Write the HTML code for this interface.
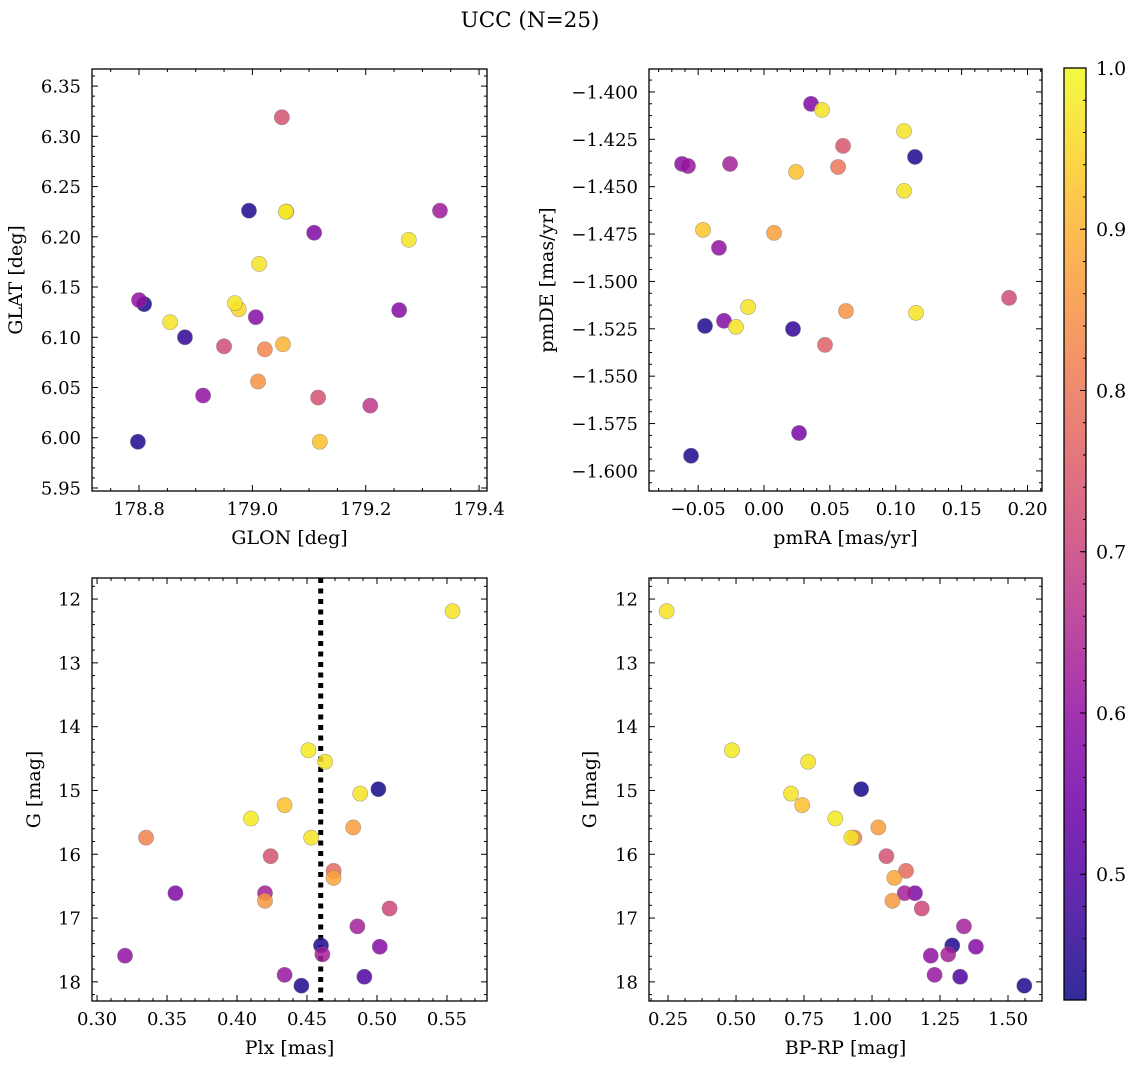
<!DOCTYPE html>
<html><head><meta charset="utf-8">
<style>
html,body{margin:0;padding:0;background:#fff;}
svg{display:block;font-family:"DejaVu Serif","Liberation Serif",serif;}
</style></head>
<body>
<svg id="fig" width="1136" height="1068" viewBox="0 0 1136 1068" xmlns="http://www.w3.org/2000/svg">
<text x="530" y="27" text-anchor="middle" font-size="21.5">UCC (N=25)</text>
</svg>
<script>
// Shared star data (panels 3 and 4)
const gMag = [12.19,14.37,14.55,14.98,15.05,15.23,15.44,15.58,15.74,15.74,16.03,16.26,16.37,16.61,16.61,16.73,16.85,17.13,17.43,17.45,17.59,17.57,17.89,17.92,18.06];
const plx  = [0.554,0.451,0.463,0.501,0.488,0.434,0.410,0.483,0.335,0.453,0.424,0.469,0.469,0.356,0.420,0.420,0.509,0.486,0.460,0.502,0.320,0.461,0.434,0.491,0.446];
const bprp = [0.245,0.485,0.765,0.960,0.702,0.743,0.865,1.023,0.935,0.924,1.053,1.125,1.082,1.158,1.120,1.075,1.183,1.338,1.295,1.382,1.216,1.280,1.230,1.324,1.560];
const probCmd = [0.97,0.98,0.97,0.43,0.97,0.92,0.98,0.87,0.82,0.97,0.73,0.78,0.88,0.57,0.63,0.86,0.71,0.63,0.44,0.58,0.60,0.63,0.61,0.50,0.44];
// Panel 1
const glon = [179.052,178.994,179.059,179.060,179.109,179.331,179.276,179.012,178.800,178.809,178.855,178.881,178.969,178.976,179.006,179.259,178.950,179.022,179.054,179.010,178.913,179.116,179.208,178.798,179.119];
const glat = [6.319,6.226,6.225,6.225,6.204,6.226,6.197,6.173,6.137,6.133,6.115,6.100,6.134,6.128,6.120,6.127,6.091,6.088,6.093,6.056,6.042,6.040,6.032,5.996,5.996];
const probPos = [0.73,0.44,0.98,0.93,0.57,0.62,0.97,0.97,0.60,0.44,0.97,0.46,0.97,0.95,0.58,0.58,0.72,0.83,0.90,0.85,0.60,0.73,0.68,0.44,0.92];
// Panel 2
const pmra = [0.0357,0.044,0.1063,0.060,0.1146,-0.0622,-0.0577,-0.0258,0.0562,0.0243,0.1063,-0.0463,0.0076,-0.0342,0.186,-0.0121,-0.0304,-0.0448,-0.0213,0.022,0.0622,0.1154,0.0463,0.0266,-0.0554];
const pmde = [-1.4063,-1.4095,-1.4206,-1.4285,-1.4343,-1.438,-1.4391,-1.438,-1.4396,-1.4422,-1.4522,-1.4728,-1.4744,-1.4823,-1.5087,-1.5135,-1.5208,-1.5235,-1.524,-1.5251,-1.5156,-1.5166,-1.5335,-1.58,-1.592];
const probPm = [0.57,0.97,0.97,0.74,0.44,0.59,0.61,0.63,0.80,0.92,0.97,0.93,0.87,0.60,0.72,0.97,0.58,0.44,0.97,0.46,0.85,0.97,0.76,0.56,0.44];
// Tick labels
const p1xTicks = [178.8,179.0,179.2,179.4];
const p1yTicks = [5.95,6.00,6.05,6.10,6.15,6.20,6.25,6.30,6.35];
const p2xTicks = [-0.05,0.00,0.05,0.10,0.15,0.20];
const p2yTicks = [-1.400,-1.425,-1.450,-1.475,-1.500,-1.525,-1.550,-1.575,-1.600];
const p3xTicks = [0.30,0.35,0.40,0.45,0.50,0.55];
const gTicks = [12,13,14,15,16,17,18];
const p4xTicks = [0.25,0.50,0.75,1.00,1.25,1.50];
const cbTicks = [0.5,0.6,0.7,0.8,0.9,1.0];
const plxMarker = [0.4598];

const NS="http://www.w3.org/2000/svg";
const svg=document.getElementById('fig');
const vmin=0.422, vmax=1.0;
const stops=["#0d0887","#41049d","#6a00a8","#8f0da4","#b12a90","#cc4778","#e16462","#f2844b","#fca636","#fcce25","#f0f921"];
function hex(h){return [parseInt(h.slice(1,3),16),parseInt(h.slice(3,5),16),parseInt(h.slice(5,7),16)];}
function cmap(p){let t=(p-vmin)/(vmax-vmin);t=Math.max(0,Math.min(1,t));const f=t*10;const i=Math.min(9,Math.floor(f));const u=f-i;const a=hex(stops[i]),b=hex(stops[i+1]);return 'rgb('+a.map((v,k)=>Math.round(v+(b[k]-v)*u)).join(',')+')';}
function mk(tag,attrs,parent){const e=document.createElementNS(NS,tag);for(const k in attrs)e.setAttribute(k,attrs[k]);(parent||svg).appendChild(e);return e;}
function fmt(v,d){const s=Math.abs(v).toFixed(d);return (v<-1e-9?'\u2212':'')+s;}

function panel(cfg){
  const g=mk('g',{});
  
  
  const L=cfg.box[0],T=cfg.box[1],R=cfg.box[2],B=cfg.box[3];
  const sx=v=>L+(v-cfg.xr[0])/(cfg.xr[1]-cfg.xr[0])*(R-L);
  const sy=cfg.yinv? (v=>T+(v-cfg.yr[0])/(cfg.yr[1]-cfg.yr[0])*(B-T)) : (v=>B-(v-cfg.yr[0])/(cfg.yr[1]-cfg.yr[0])*(B-T));
  const tk=mk('g',{stroke:'#000','stroke-width':1},g);
  
  
  const xlo=Math.min(...cfg.xr),xhi=Math.max(...cfg.xr),ylo=Math.min(...cfg.yr),yhi=Math.max(...cfg.yr);
  const xstep=cfg.xt[1]-cfg.xt[0], ystep=Math.abs(cfg.yt[1]-cfg.yt[0]);
  const xm=xstep/cfg.xsub, ym=ystep/cfg.ysub;
  for(let v=Math.ceil((xlo-1e-9)/xm)*xm; v<=xhi+1e-9; v+=xm){const x=sx(v);const major=cfg.xt.some(t=>Math.abs(t-v)<xm/10);const l=major?6:3;
    mk('line',{x1:x,y1:B,x2:x,y2:B-l},tk);mk('line',{x1:x,y1:T,x2:x,y2:T+l},tk);}
  for(let v=Math.ceil((ylo-1e-9)/ym)*ym; v<=yhi+1e-9; v+=ym){const y=sy(v);const major=cfg.yt.some(t=>Math.abs(t-v)<ym/10);const l=major?6:3;
    mk('line',{x1:L,y1:y,x2:L+l,y2:y},tk);mk('line',{x1:R,y1:y,x2:R-l,y2:y},tk);}
  cfg.xt.forEach(v=>{const t=mk('text',{x:sx(v),y:B+24,'text-anchor':'middle','font-size':18},g);t.textContent=fmt(v,cfg.xd);
    });
  cfg.yt.forEach(v=>{const t=mk('text',{x:L-11,y:sy(v)+6.5,'text-anchor':'end','font-size':18},g);t.textContent=fmt(v,cfg.yd);
    });
  const xl=mk('text',{x:(L+R)/2,y:B+53,'text-anchor':'middle','font-size':19},g);xl.textContent=cfg.xlabel;
  
  const yl=mk('text',{x:cfg.ylx,y:(T+B)/2,'text-anchor':'middle','font-size':19,transform:'rotate(-90 '+cfg.ylx+' '+(T+B)/2+')'},g);yl.textContent=cfg.ylabel;
  
  if(cfg.vline){cfg.vline.forEach(v=>{const ln=mk('line',{x1:sx(v),y1:T,x2:sx(v),y2:B,stroke:'#000','stroke-width':5,'stroke-dasharray':'5 5.5'},g);
    });}
  const idx=cfg.xs.map((_,i)=>i).sort((a,b)=>cfg.ps[a]-cfg.ps[b]);
  idx.forEach(i=>{const c=mk('circle',{cx:sx(cfg.xs[i]),cy:sy(cfg.ys[i]),r:7.6,fill:cmap(cfg.ps[i]),'fill-opacity':0.85,stroke:'#777','stroke-opacity':0.6,'stroke-width':0.6},g);
    });
  const fr=mk('rect',{x:L,y:T,width:R-L,height:B-T,fill:'none',stroke:'#000','stroke-width':1.3},g);
  
}

panel({name:'glon-glat-panel',box:[92,69,487,491],xr:[178.717,179.414],yr:[5.947,6.367],xt:p1xTicks,yt:p1yTicks,xsub:4,ysub:5,xd:1,yd:2,
  xs:glon,ys:glat,ps:probPos,xlabel:'GLON [deg]',ylabel:'GLAT [deg]',ylx:22});
panel({name:'pm-panel',box:[649,69,1042,491],xr:[-0.0873,0.211],yr:[-1.6106,-1.3879],xt:p2xTicks,yt:p2yTicks.slice().reverse(),xsub:5,ysub:4,xd:2,yd:3,
  xs:pmra,ys:pmde,ps:probPm,xlabel:'pmRA [mas/yr]',ylabel:'pmDE [mas/yr]',ylx:553});
panel({name:'plx-g-panel',box:[92,578,487,1001],xr:[0.2964,0.5786],yr:[11.67,18.30],yinv:true,xt:p3xTicks,yt:gTicks,xsub:5,ysub:5,xd:2,yd:0,
  xs:plx,ys:gMag,ps:probCmd,xlabel:'Plx [mas]',ylabel:'G [mag]',ylx:40,vline:plxMarker});
panel({name:'cmd-panel',box:[649,578,1042,1001],xr:[0.180,1.625],yr:[11.67,18.30],yinv:true,xt:p4xTicks,yt:gTicks,xsub:4,ysub:5,xd:2,yd:0,
  xs:bprp,ys:gMag,ps:probCmd,xlabel:'BP-RP [mag]',ylabel:'G [mag]',ylx:596});

// Colorbar
(function(){
  const L=1064,R=1086,T=68,B=1000;
  const cb=mk('g',{});
  
  
  const defs=mk('defs',{},cb);
  const lg=mk('linearGradient',{id:'cbg',x1:0,y1:1,x2:0,y2:0},defs);
  for(let k=0;k<=20;k++){const p=vmin+(vmax-vmin)*k/20;mk('stop',{offset:k/20,'stop-color':cmap(p),'stop-opacity':0.85},lg);}
  mk('rect',{x:L,y:T,width:R-L,height:B-T,fill:'url(#cbg)'},cb);
  const sy=v=>B-(v-vmin)/(vmax-vmin)*(B-T);
  for(let v=0.44;v<=1.0001;v+=0.02){const y=sy(v);mk('line',{x1:R,y1:y,x2:R-3,y2:y,stroke:'#000','stroke-width':1},cb);}
  cbTicks.forEach(v=>{const y=sy(v);mk('line',{x1:R,y1:y,x2:R-6,y2:y,stroke:'#000','stroke-width':1},cb);
    const t=mk('text',{x:R+10,y:y+7,'font-size':19},cb);t.textContent=v.toFixed(1);
    });
  mk('rect',{x:L,y:T,width:R-L,height:B-T,fill:'none',stroke:'#000','stroke-width':1.3},cb);
})();
</script>
</body></html>
